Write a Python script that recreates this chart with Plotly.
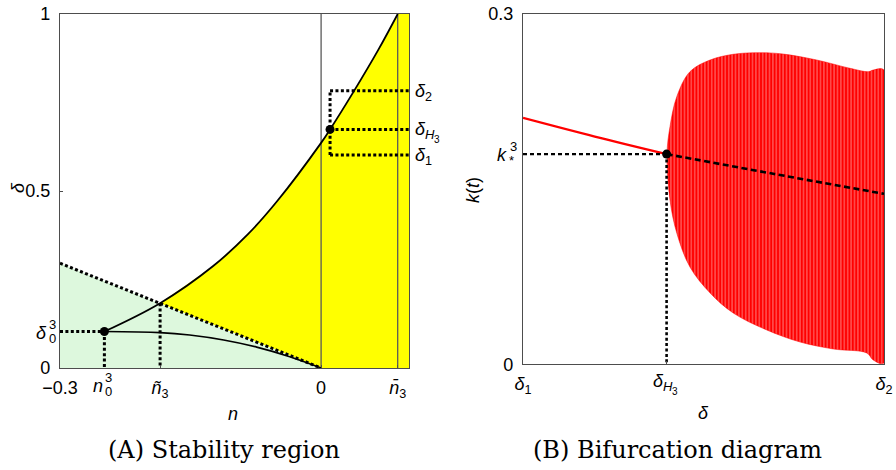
import plotly.graph_objects as go

# ---------------- data ----------------
# Panel A: stability region
n_range = [-0.3, 0.101]
n0_3, delta0_3 = -0.249, 0.103          # cusp point
n_tilde3 = -0.185                       # crossing with dotted line
n_bar3 = 0.088                          # curve reaches delta = 1
delta_1, delta_H3, delta_2 = 0.602, 0.674, 0.783
n_H3 = 0.0103                           # Hopf point on the upper curve

upper_n = [-0.249, -0.185, -0.124, -0.084, -0.0506, 0.0, 0.0103, 0.0372, 0.066, 0.088]
upper_d = [0.103, 0.183, 0.288, 0.378, 0.471, 0.636, 0.674, 0.780, 0.900, 1.0]

lower_n = [-0.249, -0.185, -0.151, -0.112, -0.074, -0.036, 0.0]
lower_d = [0.103, 0.100, 0.093, 0.079, 0.059, 0.032, 0.0]

dotted_n = [-0.3, 0.0]
dotted_d = [0.296, 0.0]

# Panel B: bifurcation diagram
eq_delta = [0.602, 0.638, 0.674, 0.728, 0.783]
eq_k = [0.211, 0.195, 0.180, 0.163, 0.146]
k_star3 = 0.180

env_up_delta = [0.6742, 0.6757, 0.6791, 0.6857, 0.6958, 0.7074, 0.7208, 0.7325,
                0.7493, 0.7660, 0.7751, 0.7776, 0.7830]
env_up_k = [0.180, 0.2035, 0.2292, 0.2506, 0.2606, 0.2655, 0.2669, 0.2657,
            0.2606, 0.2535, 0.2506, 0.2520, 0.2520]
env_lo_delta = [0.6742, 0.6757, 0.6791, 0.6857, 0.6958, 0.7074, 0.7242, 0.7409,
                0.7576, 0.7743, 0.7776, 0.7830]
env_lo_k = [0.180, 0.1407, 0.1124, 0.0833, 0.0611, 0.0439, 0.0294, 0.0191,
            0.0131, 0.0097, 0.0037, 0.0011]

# ---------------- styling ----------------
W, H = 896, 470
SANS = "Liberation Sans, Arial, sans-serif"
SERIF = "DejaVu Serif, serif"
TICK = 18
FRAME = "#4d4d4d"
GREEN = "#ddf8dd"
YELLOW = "#ffff00"
RED = "#ff0000"
DOT = "3px,2.4px"

fig = go.Figure()

# ---- Panel A ----
yel_n = [n for n in upper_n if n >= n_tilde3] + [n_range[1], n_range[1], 0.0]
yel_d = [d for n, d in zip(upper_n, upper_d) if n >= n_tilde3] + [1.0, 0.0, 0.0]
fig.add_trace(go.Scatter(x=yel_n, y=yel_d, fill="toself", fillcolor=YELLOW,
                         line=dict(width=0), mode="lines", hoverinfo="skip",
                         xaxis="x", yaxis="y"))
fig.add_trace(go.Scatter(x=[dotted_n[0], dotted_n[0], dotted_n[1]],
                         y=[0.0, dotted_d[0], dotted_d[1]],
                         fill="toself", fillcolor=GREEN, line=dict(width=0),
                         mode="lines", hoverinfo="skip", xaxis="x", yaxis="y"))
for xv in [0.0, n_bar3]:
    fig.add_trace(go.Scatter(x=[xv, xv], y=[0, 1], mode="lines",
                             line=dict(color="#5a5a5a", width=1.3),
                             hoverinfo="skip", xaxis="x", yaxis="y"))
fig.add_trace(go.Scatter(x=dotted_n, y=dotted_d, mode="lines",
                         line=dict(color="black", width=3, dash=DOT),
                         hoverinfo="skip", xaxis="x", yaxis="y"))
fig.add_trace(go.Scatter(x=upper_n, y=upper_d, mode="lines", line_shape="spline",
                         line=dict(color="black", width=1.8),
                         hoverinfo="skip", xaxis="x", yaxis="y"))
fig.add_trace(go.Scatter(x=lower_n, y=lower_d, mode="lines", line_shape="spline",
                         line=dict(color="black", width=1.6),
                         hoverinfo="skip", xaxis="x", yaxis="y"))
guides_A = [
    ([n_range[0], n0_3], [delta0_3, delta0_3]),
    ([n0_3, n0_3], [delta0_3, 0]),
    ([n_tilde3, n_tilde3], [upper_d[1], 0]),
    ([n_H3, n_H3], [delta_1, delta_2]),
    ([n_H3, n_range[1]], [delta_2, delta_2]),
    ([n_H3, n_range[1]], [delta_H3, delta_H3]),
    ([n_H3, n_range[1]], [delta_1, delta_1]),
]
for gx, gy in guides_A:
    fig.add_trace(go.Scatter(x=gx, y=gy, mode="lines",
                             line=dict(color="black", width=3, dash=DOT),
                             hoverinfo="skip", xaxis="x", yaxis="y"))
fig.add_trace(go.Scatter(x=[n0_3, n_H3], y=[delta0_3, delta_H3], mode="markers",
                         marker=dict(color="black", size=9),
                         hoverinfo="skip", xaxis="x", yaxis="y"))

# ---- Panel B ----
poly_d = env_up_delta + env_lo_delta[::-1]
poly_k = env_up_k + env_lo_k[::-1]
fig.add_trace(go.Scatter(x=poly_d, y=poly_k, fill="toself", fillcolor=RED,
                         fillpattern=dict(shape="|", bgcolor=RED, fgcolor="white",
                                          size=3.4, solidity=0.28),
                         line=dict(width=0.5, color=RED), mode="lines",
                         line_shape="spline", hoverinfo="skip",
                         xaxis="x2", yaxis="y2"))
stable_d = [d for d in eq_delta if d <= delta_H3]
stable_k = [k for d, k in zip(eq_delta, eq_k) if d <= delta_H3]
unst_d = [d for d in eq_delta if d >= delta_H3]
unst_k = [k for d, k in zip(eq_delta, eq_k) if d >= delta_H3]
fig.add_trace(go.Scatter(x=stable_d, y=stable_k, mode="lines", line_shape="spline",
                         line=dict(color=RED, width=2.2),
                         hoverinfo="skip", xaxis="x2", yaxis="y2"))
fig.add_trace(go.Scatter(x=unst_d, y=unst_k, mode="lines", line_shape="spline",
                         line=dict(color="black", width=2.6, dash="6px,3.5px"),
                         hoverinfo="skip", xaxis="x2", yaxis="y2"))
fig.add_trace(go.Scatter(x=[delta_1, delta_H3], y=[k_star3, k_star3], mode="lines",
                         line=dict(color="black", width=2.4, dash="4px,3px"),
                         hoverinfo="skip", xaxis="x2", yaxis="y2"))
fig.add_trace(go.Scatter(x=[delta_H3, delta_H3], y=[k_star3, 0], mode="lines",
                         line=dict(color="black", width=2.6, dash=DOT),
                         hoverinfo="skip", xaxis="x2", yaxis="y2"))
fig.add_trace(go.Scatter(x=[delta_H3], y=[k_star3], mode="markers",
                         marker=dict(color="black", size=9),
                         hoverinfo="skip", xaxis="x2", yaxis="y2"))

# ---------------- axes ----------------
def ax(**kw):
    base = dict(showgrid=False, zeroline=False, showline=True, linecolor=FRAME,
                linewidth=1.3, mirror=True, ticks="inside", ticklen=3,
                tickcolor=FRAME, tickfont=dict(family=SANS, size=TICK, color="black"))
    base.update(kw)
    return base

xA0, xA1 = 60 / W, 409 / W
xB0, xB1 = 523 / W, 884 / W
yA0, yA1 = (H - 368) / H, (H - 14) / H
yB0, yB1 = (H - 364.3) / H, (H - 14) / H

fig.update_layout(
    width=W, height=H, margin=dict(l=0, r=0, t=0, b=0, autoexpand=False),
    paper_bgcolor="white", plot_bgcolor="white", showlegend=False,
    xaxis=ax(domain=[xA0, xA1], range=n_range, anchor="y",
             tickvals=[-0.3, n_tilde3, 0.0, n_bar3],
             ticktext=["\u22120.3", "<i>\u00f1</i><sub>3</sub>", "0", "<i>n\u0304</i><sub>3</sub>"],
             ticklabelstandoff=3),
    yaxis=ax(domain=[yA0, yA1], range=[0, 1], anchor="x",
             tickvals=[0, 0.5, 1], ticktext=["0", "0.5", "1"], ticklabelstandoff=5),
    xaxis2=ax(domain=[xB0, xB1], range=[delta_1, delta_2], anchor="y2",
              tickvals=[delta_1, delta_H3, delta_2],
              ticktext=["<i>\u03b4</i><sub>1</sub>", " ", "<i>\u03b4</i><sub>2</sub>"],
              ticklabelstandoff=3),
    yaxis2=ax(domain=[yB0, yB1], range=[0, 0.3], anchor="x2",
              tickvals=[0, 0.3], ticktext=["0", "0.3"], ticklabelstandoff=5),
)

ann = []
def A(text, x, y, xref, yref, size=TICK, xanchor="center", yanchor="middle",
      xshift=0, yshift=0, family=SANS, angle=0):
    ann.append(dict(text=text, x=x, y=y, xref=xref, yref=yref, showarrow=False,
                    font=dict(family=family, size=size, color="black"),
                    xanchor=xanchor, yanchor=yanchor, xshift=xshift, yshift=yshift,
                    textangle=angle, borderpad=0))

def py(ypx):  # pixel row -> paper
    return 1 - ypx / H

def px(xpx):
    return xpx / W

# delta_0^3 on the left y axis
A("<i>\u03b4</i>", px(48), delta0_3, "paper", "y", xanchor="right", yshift=-1)
A("3", px(48), delta0_3, "paper", "y", size=13, xanchor="left", yshift=7)
A("0", px(48), delta0_3, "paper", "y", size=13, xanchor="left", yshift=-7)
# n_0^3 on the bottom axis
A("<i>n</i>", n0_3, py(386), "x", "paper", xanchor="right", xshift=0)
A("3", n0_3, py(377), "x", "paper", size=13, xanchor="left", xshift=0)
A("0", n0_3, py(391), "x", "paper", size=13, xanchor="left", xshift=0)
# k_*^3 on the right-panel y axis
A("<i>k</i>", px(508), k_star3, "paper", "y2", xanchor="right", yshift=-1)
A("3", px(509), k_star3, "paper", "y2", size=13, xanchor="left", yshift=8)
A("*", px(508), k_star3, "paper", "y2", size=13, xanchor="left", yshift=-6)

# delta_{H_3} as composite label
def dH3(x, xref, y, yref, xanchor_left_shift=0, yshift=0):
    A("<i>\u03b4</i>", x, y, xref, yref, xanchor="left", xshift=xanchor_left_shift, yshift=yshift)
    A("<i>H</i>", x, y, xref, yref, size=13, xanchor="left",
      xshift=xanchor_left_shift + 10, yshift=yshift - 5)
    A("3", x, y, xref, yref, size=10, xanchor="left",
      xshift=xanchor_left_shift + 19, yshift=yshift - 10)

dH3(delta_H3, "x2", py(381), "paper", xanchor_left_shift=-15)

# right-side labels of panel A
A("<i>\u03b4</i><sub>2</sub>", 1, delta_2, "x domain", "y", xanchor="left", xshift=5, yshift=-2)
dH3(1, "x domain", delta_H3, "y", xanchor_left_shift=5, yshift=0)
A("<i>\u03b4</i><sub>1</sub>", 1, delta_1, "x domain", "y", xanchor="left", xshift=5, yshift=-2)

# axis titles
A("<i>n</i>", px(233), py(414), "paper", "paper")
A("<i>\u03b4</i>", px(18), py(188), "paper", "paper", angle=-90)
A("<i>\u03b4</i>", px(703), py(413), "paper", "paper")
A("<i>k</i>(<i>t</i>)", px(473), py(190), "paper", "paper", angle=-90)

# captions
A("(A) Stability region", px(224), py(450), "paper", "paper", size=24, family=SERIF)
A("(B) Bifurcation diagram", px(677), py(450), "paper", "paper", size=24, family=SERIF)

fig.update_layout(annotations=ann)
fig.write_html("out.html", config={"displayModeBar": False},
               post_script="document.body.style.margin='0px';")
